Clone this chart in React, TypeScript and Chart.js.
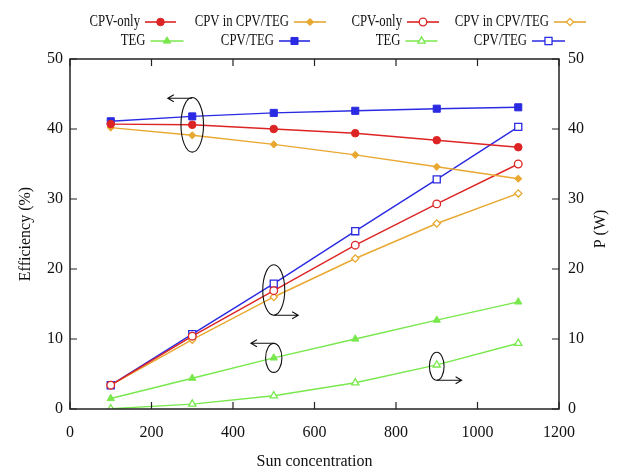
import React, { useEffect, useRef } from "react";
import { Chart, registerables } from "chart.js";
import { drawPoint } from "chart.js/helpers";

Chart.register(...registerables);

// ---- data ----
const sunConcentration = [100, 300, 500, 700, 900, 1100];
// Efficiency (%) – left axis
const effCpvOnly = [40.7, 40.6, 40.0, 39.4, 38.4, 37.4];
const effCpvInHybrid = [40.2, 39.1, 37.8, 36.3, 34.6, 32.9];
const effTeg = [1.5, 4.4, 7.3, 10.0, 12.7, 15.3];
const effHybrid = [41.1, 41.8, 42.3, 42.6, 42.9, 43.1];
// Power P (W) – right axis
const powCpvOnly = [3.4, 10.4, 16.9, 23.4, 29.3, 35.0];
const powCpvInHybrid = [3.4, 9.9, 16.0, 21.5, 26.5, 30.8];
const powTeg = [0.05, 0.7, 1.9, 3.75, 6.3, 9.4];
const powHybrid = [3.4, 10.7, 17.9, 25.4, 32.8, 40.3];

const xTicks = [0, 200, 400, 600, 800, 1000, 1200];
const yTicks = [0, 10, 20, 30, 40, 50];

// annotation ellipses (data coords) and arrows
const annotations = [
  { cx: 300, cy: 40.6, rx: 27.7, ry: 3.9, arrowY: 44.4, arrowFrom: 300, arrowTo: 240 },
  { cx: 500, cy: 17.0, rx: 27, ry: 3.6, arrowY: 13.4, arrowFrom: 500, arrowTo: 560 },
  { cx: 500, cy: 7.3, rx: 20, ry: 2.07, arrowY: 9.4, arrowFrom: 500, arrowTo: 444 },
  { cx: 900, cy: 6.1, rx: 18, ry: 2.0, arrowY: 4.1, arrowFrom: 900, arrowTo: 961 },
];

const RED = "#dd2424";
const ORANGE = "#e8a830";
const GREEN = "#78e84c";
const BLUE = "#2a2ae2";
const SERIF = "'Liberation Serif', 'Times New Roman', serif";

const toPts = (ys: number[]) => sunConcentration.map((x, i) => ({ x, y: ys[i] }));

function ds(label: string, ys: number[], color: string, style: string, radius: number, open: boolean, axis: string) {
  return {
    label,
    data: toPts(ys),
    yAxisID: axis,
    borderColor: color,
    backgroundColor: open ? "#ffffff" : color,
    pointBorderColor: color,
    pointBackgroundColor: open ? "#ffffff" : color,
    pointStyle: style,
    pointRadius: radius,
    pointBorderWidth: open ? 1.3 : 1,
    borderWidth: 1.4,
    tension: 0,
  };
}

const legendLayout = [
  { i: 0, xr: 140, y: 22, len: 31 },
  { i: 1, xr: 289, y: 22, len: 32 },
  { i: 4, xr: 402, y: 22, len: 32 },
  { i: 5, xr: 549, y: 22, len: 32 },
  { i: 2, xr: 145.5, y: 41, len: 33 },
  { i: 3, xr: 274, y: 41, len: 31 },
  { i: 6, xr: 400.5, y: 41, len: 32 },
  { i: 7, xr: 527, y: 41, len: 33 },
];

const decorPlugin = {
  id: "decor",
  afterDraw(chart: any) {
    const { ctx, chartArea: a, scales } = chart;
    const xs = scales.x, yl = scales.y, yr = scales.y2;
    ctx.save();
    // frame
    ctx.strokeStyle = "#222";
    ctx.lineWidth = 1.5;
    ctx.strokeRect(a.left, a.top, a.right - a.left, a.bottom - a.top);
    // inward ticks
    ctx.lineWidth = 1.2;
    ctx.beginPath();
    xTicks.forEach((v) => {
      const px = xs.getPixelForValue(v);
      ctx.moveTo(px, a.bottom);
      ctx.lineTo(px, a.bottom - 7);
      ctx.moveTo(px, a.top);
      ctx.lineTo(px, a.top + 7);
    });
    yTicks.forEach((v) => {
      const py = yl.getPixelForValue(v);
      ctx.moveTo(a.left, py);
      ctx.lineTo(a.left + 7, py);
      const py2 = yr.getPixelForValue(v);
      ctx.moveTo(a.right, py2);
      ctx.lineTo(a.right - 7, py2);
    });
    ctx.stroke();

    // annotations
    ctx.strokeStyle = "#111";
    ctx.lineWidth = 1.1;
    annotations.forEach((an) => {
      const cx = xs.getPixelForValue(an.cx);
      const cy = yl.getPixelForValue(an.cy);
      const rx = Math.abs(xs.getPixelForValue(an.cx + an.rx) - cx);
      const ry = Math.abs(yl.getPixelForValue(an.cy + an.ry) - cy);
      ctx.beginPath();
      ctx.ellipse(cx, cy, rx, ry, 0, 0, Math.PI * 2);
      ctx.stroke();
      const ay = yl.getPixelForValue(an.arrowY);
      const x0 = xs.getPixelForValue(an.arrowFrom);
      const x1 = xs.getPixelForValue(an.arrowTo);
      const dir = Math.sign(x1 - x0);
      ctx.beginPath();
      ctx.moveTo(x0, ay);
      ctx.lineTo(x1, ay);
      ctx.moveTo(x1 - dir * 6, ay - 3.5);
      ctx.lineTo(x1, ay);
      ctx.lineTo(x1 - dir * 6, ay + 3.5);
      ctx.stroke();
    });

    // right axis title
    ctx.fillStyle = "#111";
    ctx.font = `16px ${SERIF}`;
    ctx.textAlign = "center";
    ctx.textBaseline = "middle";
    ctx.translate(601, 229);
    ctx.rotate(-Math.PI / 2);
    ctx.fillText("P (W)", 0, 0);
    ctx.restore();

    // legend
    ctx.save();
    legendLayout.forEach((e) => {
      const d = chart.data.datasets[e.i];
      ctx.save();
      ctx.fillStyle = "#111";
      ctx.font = `17px ${SERIF}`;
      ctx.textAlign = "right";
      ctx.textBaseline = "middle";
      ctx.translate(e.xr, e.y);
      ctx.scale(0.75, 1);
      ctx.fillText(d.label, 0, 0);
      ctx.restore();
      const lx0 = e.xr + 5;
      const lx1 = lx0 + e.len;
      ctx.strokeStyle = d.borderColor;
      ctx.lineWidth = 1.6;
      ctx.beginPath();
      ctx.moveTo(lx0, e.y);
      ctx.lineTo(lx1, e.y);
      ctx.stroke();
      ctx.fillStyle = d.pointBackgroundColor;
      ctx.strokeStyle = d.borderColor;
      ctx.lineWidth = d.pointBorderWidth;
      drawPoint(ctx, { pointStyle: d.pointStyle, radius: d.pointRadius, rotation: 0, borderWidth: d.pointBorderWidth }, (lx0 + lx1) / 2, e.y);
    });
    ctx.restore();
  },
};

export default function App() {
  const ref = useRef<HTMLCanvasElement>(null);
  useEffect(() => {
    document.body.style.margin = "0";
    const chart = new Chart(ref.current!, {
      type: "line",
      data: {
        datasets: [
          ds("CPV-only", effCpvOnly, RED, "circle", 3.8, false, "y"),
          ds("CPV in CPV/TEG", effCpvInHybrid, ORANGE, "rectRot", 3.6, false, "y"),
          ds("TEG", effTeg, GREEN, "triangle", 4.2, false, "y"),
          ds("CPV/TEG", effHybrid, BLUE, "rect", 5, false, "y"),
          ds("CPV-only", powCpvOnly, RED, "circle", 3.8, true, "y2"),
          ds("CPV in CPV/TEG", powCpvInHybrid, ORANGE, "rectRot", 3.6, true, "y2"),
          ds("TEG", powTeg, GREEN, "triangle", 4.2, true, "y2"),
          ds("CPV/TEG", powHybrid, BLUE, "rect", 5, true, "y2"),
        ] as any,
      },
      options: {
        animation: false,
        responsive: false,
        maintainAspectRatio: false,
        layout: { padding: { top: 59, left: 0, right: 0, bottom: 0 } },
        plugins: { legend: { display: false }, tooltip: { enabled: false } },
        scales: {
          x: {
            type: "linear",
            min: 0,
            max: 1200,
            afterFit: (s: any) => { s.height = 61; },
            afterBuildTicks: (s: any) => { s.ticks = xTicks.map((v) => ({ value: v })); },
            grid: { display: false, drawTicks: false },
            border: { display: false },
            ticks: { padding: 14, color: "#111", font: { family: SERIF, size: 16 }, maxRotation: 0, callback: (v: any) => String(v) },
            title: { display: true, text: "Sun concentration", color: "#111", font: { family: SERIF, size: 16 }, padding: { top: 0, bottom: -1 } },
          },
          y: {
            type: "linear",
            position: "left",
            min: 0,
            max: 50,
            afterFit: (s: any) => { s.width = 70; },
            afterBuildTicks: (s: any) => { s.ticks = yTicks.map((v) => ({ value: v })); },
            grid: { display: false, drawTicks: false },
            border: { display: false },
            ticks: { padding: 7, color: "#111", font: { family: SERIF, size: 16 }, callback: (v: any) => String(v) },
            title: { display: true, text: "Efficiency (%)", color: "#111", font: { family: SERIF, size: 16 }, padding: { top: 16, bottom: 0 } },
          },
          y2: {
            type: "linear",
            position: "right",
            min: 0,
            max: 50,
            afterFit: (s: any) => { s.width = 68; },
            afterBuildTicks: (s: any) => { s.ticks = yTicks.map((v) => ({ value: v })); },
            grid: { display: false, drawTicks: false },
            border: { display: false },
            ticks: { padding: 9, color: "#111", font: { family: SERIF, size: 16 }, callback: (v: any) => String(v) },
          },
        },
      } as any,
      plugins: [decorPlugin],
    });
    return () => chart.destroy();
  }, []);
  return (
    <div style={{ position: "absolute", left: 0, top: 0, width: 627, height: 470, background: "#fff" }}>
      <canvas ref={ref} width={627} height={470} style={{ display: "block", width: 627, height: 470 }} />
    </div>
  );
}
